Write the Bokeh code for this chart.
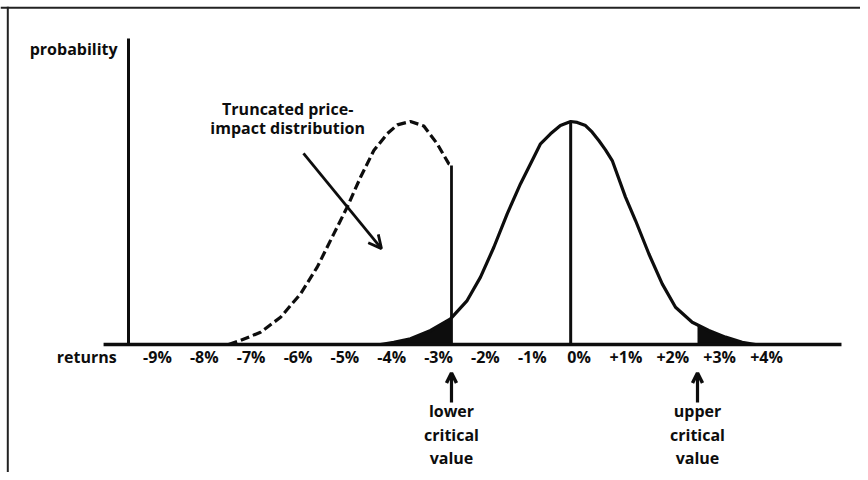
import numpy as np
from bokeh.plotting import figure
from bokeh.models import Range1d, Arrow, OpenHead
from bokeh.core.properties import value
from bokeh.embed import file_html
from bokeh.resources import INLINE

# ---- data (returns in %, probability relative to peak) ----
tick_values = [-9, -8, -7, -6, -5, -4, -3, -2, -1, 0, 1, 2, 3, 4]
tick_labels = ["-9%", "-8%", "-7%", "-6%", "-5%", "-4%", "-3%", "-2%", "-1%",
               "0%", "+1%", "+2%", "+3%", "+4%"]

normal_x = [-4.24, -3.955, -3.60, -3.17, -2.745, -2.39, -2.105, -1.82, -1.535,
            -1.25, -0.967, -0.824, -0.61, -0.399, -0.18, -0.04, 0.137, 0.28,
            0.42, 0.563, 0.707, 0.99, 1.204, 1.488, 1.774, 2.058, 2.414, 2.768,
            3.125, 3.48, 3.765]
normal_y = [0.0, 0.010, 0.026, 0.063, 0.115, 0.197, 0.302, 0.436, 0.586,
            0.721, 0.840, 0.900, 0.945, 0.982, 1.0, 0.996, 0.982, 0.952,
            0.915, 0.873, 0.825, 0.661, 0.556, 0.407, 0.272, 0.167, 0.100, 0.063,
            0.033, 0.010, 0.0]

trunc_x = [-7.483, -7.227, -6.80, -6.373, -5.946, -5.59, -5.236, -4.95, -4.666,
           -4.382, -4.096, -3.88, -3.60, -3.315, -3.029, -2.78, -2.724]
trunc_y = [0.0, 0.018, 0.055, 0.122, 0.227, 0.347, 0.496, 0.616, 0.750,
           0.870, 0.945, 0.985, 1.0, 0.980, 0.900, 0.810, 0.803]

normal_mean = -0.18
lower_crit = -2.724
upper_crit = 2.527

axis_label_x = "returns"
axis_label_y = "probability"
note_lines = ["Truncated price-", "impact distribution"]
lower_lines = ["lower", "critical", "value"]
upper_lines = ["upper", "critical", "value"]

# ---- figure ----
W, H = 860, 472
X0, X1 = -12.350, 6.006
Y0, Y1 = -0.574, 1.5426
p = figure(width=W, height=H, x_range=Range1d(X0, X1), y_range=Range1d(Y0, Y1),
           output_backend="svg", toolbar_location=None, title=None,
           x_axis_location=None, y_axis_location=None, min_border=0)
p.grid.visible = False
p.outline_line_color = None
p.background_fill_color = "white"
p.border_fill_color = "white"

INK = "#0d0d0d"
FONT = value("Open Sans")

# frame (top and left edges)
px_x = (X1 - X0) / W
px_y = (Y1 - Y0) / H
p.line([X0, X1], [Y1 - 7.3 * px_y] * 2, line_color="#222222", line_width=2)
p.line([X0 + 7.3 * px_x] * 2, [Y0, Y1 - 6.3 * px_y], line_color="#222222", line_width=2)

# shaded tails
nx = np.array(normal_x)
ny = np.array(normal_y)
lo_mask = nx < lower_crit
lo_x = list(nx[lo_mask]) + [lower_crit]
lo_y = list(ny[lo_mask]) + [float(np.interp(lower_crit, nx, ny))]
hi_mask = nx > upper_crit
hi_x = [upper_crit] + list(nx[hi_mask])
hi_y = [float(np.interp(upper_crit, nx, ny))] + list(ny[hi_mask])
p.varea(x=lo_x, y1=0, y2=lo_y, fill_color=INK)
p.varea(x=hi_x, y1=0, y2=hi_y, fill_color=INK)

# axes lines
p.line([-10.15, 5.60], [0, 0], line_color=INK, line_width=3.5)
p.line([-9.618, -9.618], [0, 1.372], line_color=INK, line_width=3)

# curves
p.line(normal_x, normal_y, line_color=INK, line_width=3.2, line_join="round")
p.line(trunc_x, trunc_y, line_color=INK, line_width=3.2, line_dash="9 4",
       line_join="round")
p.line([normal_mean, normal_mean], [0, max(normal_y)], line_color=INK, line_width=3)
p.line([lower_crit, lower_crit], [0, trunc_y[-1]], line_color=INK, line_width=2.8)

# tick labels and axis labels
text_kw = dict(text_font=FONT, text_font_style="bold", text_font_size="16px",
               text_color=INK, text_baseline="middle")
p.text(x=tick_values, y=[-0.058] * len(tick_values), text=tick_labels,
       text_align="center", **text_kw)
p.text(x=[-9.87], y=[-0.058], text=[axis_label_x], text_align="right", **text_kw)
p.text(x=[-9.85], y=[1.323], text=[axis_label_y], text_align="right", **text_kw)

# annotation
p.text(x=[-6.22, -6.22], y=[1.058, 0.969], text=note_lines, text_align="center", **text_kw)
p.add_layout(Arrow(end=OpenHead(size=13, line_width=2.8, line_color=INK),
                   x_start=-5.883, y_start=0.857, x_end=-4.218, y_end=0.430,
                   line_width=2.8, line_color=INK))

rows_y = [-0.300, -0.404, -0.507]
p.text(x=[lower_crit] * 3, y=rows_y, text=lower_lines, text_align="center", **text_kw)
p.text(x=[upper_crit] * 3, y=rows_y, text=upper_lines, text_align="center", **text_kw)
for cx in (lower_crit, upper_crit):
    p.add_layout(Arrow(end=OpenHead(size=10, line_width=3.5, line_color=INK),
                       x_start=cx, y_start=-0.26, x_end=cx, y_end=-0.128,
                       line_width=3.2, line_color=INK))

open("out.html", "w").write(file_html(p, INLINE))
